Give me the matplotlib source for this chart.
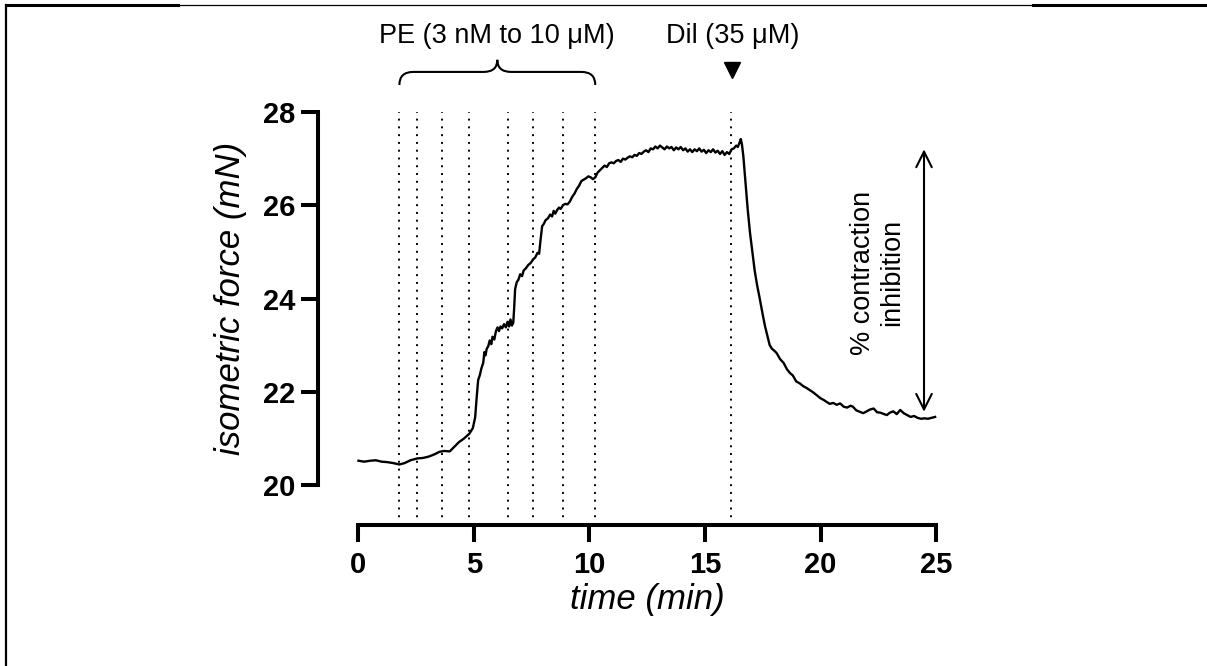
import matplotlib
matplotlib.use("Agg")
from matplotlib import pyplot as plt
from matplotlib.path import Path
from matplotlib.patches import PathPatch
from matplotlib.lines import Line2D

plt.rcParams['font.family'] = ['Liberation Sans', 'DejaVu Sans']

# trace (min, mN)
time_min = [
    0.00, 0.25, 0.50, 0.75, 1.00, 1.25, 1.50, 1.77, 2.00, 2.25, 2.55, 2.80,
    3.05, 3.30, 3.50, 3.70, 3.95, 4.15, 4.35, 4.55, 4.80, 4.95, 5.05, 5.12,
    5.18, 5.25, 5.32, 5.40, 5.45, 5.50, 5.55, 5.62, 5.68, 5.75, 5.80, 5.88,
    5.95, 6.02, 6.08, 6.15, 6.22, 6.30, 6.38, 6.45, 6.52, 6.58, 6.64, 6.70,
    6.74, 6.78, 6.85, 6.92, 7.00, 7.08, 7.15, 7.25, 7.35, 7.45, 7.56, 7.65,
    7.75, 7.82, 7.88, 7.95, 8.02, 8.10, 8.20, 8.30, 8.38, 8.45, 8.52, 8.60,
    8.68, 8.75, 8.85, 8.95, 9.05, 9.15, 9.25, 9.35, 9.45, 9.55, 9.65, 9.75,
    9.85, 9.95, 10.05, 10.15, 10.25, 10.35, 10.45, 10.55, 10.65, 10.75, 10.85, 10.95,
    11.05, 11.15, 11.25, 11.35, 11.45, 11.55, 11.65, 11.75, 11.85, 11.95, 12.05, 12.15,
    12.25, 12.35, 12.45, 12.55, 12.65, 12.75, 12.85, 12.95, 13.05, 13.15, 13.25, 13.35,
    13.45, 13.55, 13.65, 13.75, 13.85, 13.95, 14.05, 14.15, 14.25, 14.35, 14.45, 14.55,
    14.65, 14.75, 14.85, 14.95, 15.05, 15.15, 15.25, 15.35, 15.45, 15.55, 15.65, 15.75,
    15.85, 15.95, 16.05, 16.15, 16.25, 16.35, 16.42, 16.50, 16.55, 16.60, 16.66, 16.75,
    16.85, 16.95, 17.05, 17.15, 17.25, 17.38, 17.50, 17.60, 17.67, 17.80, 17.90, 18.00,
    18.10, 18.25, 18.40, 18.55, 18.68, 18.80, 18.95, 19.10, 19.25, 19.40, 19.55, 19.70,
    19.85, 20.00, 20.15, 20.27, 20.40, 20.55, 20.70, 20.85, 21.00, 21.15, 21.30, 21.40,
    21.55, 21.70, 21.85, 22.00, 22.15, 22.30, 22.45, 22.60, 22.75, 22.87, 23.00, 23.15,
    23.30, 23.45, 23.60, 23.75, 23.90, 24.05, 24.20, 24.35, 24.50, 24.65, 24.80, 24.96,
]
force_mn = [
    20.52, 20.50, 20.52, 20.53, 20.50, 20.49, 20.47, 20.44, 20.47, 20.53, 20.57, 20.58,
    20.61, 20.66, 20.71, 20.73, 20.72, 20.82, 20.92, 20.99, 21.10, 21.22, 21.45, 21.90,
    22.25, 22.35, 22.50, 22.62, 22.85, 22.78, 22.92, 22.98, 23.10, 23.02, 23.18, 23.12,
    23.30, 23.38, 23.30, 23.40, 23.36, 23.45, 23.38, 23.50, 23.40, 23.55, 23.42, 23.48,
    23.80, 24.20, 24.35, 24.40, 24.52, 24.48, 24.60, 24.65, 24.72, 24.76, 24.84, 24.88,
    24.98, 24.96, 25.25, 25.55, 25.60, 25.68, 25.72, 25.80, 25.76, 25.88, 25.82, 25.90,
    25.95, 25.92, 26.00, 26.03, 26.02, 26.08, 26.18, 26.25, 26.35, 26.42, 26.52, 26.55,
    26.58, 26.62, 26.60, 26.56, 26.60, 26.70, 26.75, 26.80, 26.85, 26.82, 26.90, 26.92,
    26.90, 26.95, 26.97, 26.93, 27.00, 26.98, 27.02, 27.05, 27.03, 27.08, 27.06, 27.12,
    27.10, 27.15, 27.18, 27.14, 27.22, 27.20, 27.26, 27.22, 27.28, 27.24, 27.20, 27.26,
    27.22, 27.25, 27.18, 27.24, 27.20, 27.25, 27.18, 27.22, 27.15, 27.20, 27.14, 27.20,
    27.16, 27.22, 27.15, 27.19, 27.12, 27.18, 27.14, 27.20, 27.13, 27.17, 27.10, 27.16,
    27.08, 27.14, 27.10, 27.20, 27.22, 27.28, 27.25, 27.35, 27.42, 27.30, 27.05, 26.50,
    25.90, 25.40, 25.00, 24.60, 24.30, 23.97, 23.65, 23.40, 23.26, 23.00, 22.92, 22.88,
    22.83, 22.70, 22.62, 22.48, 22.40, 22.35, 22.22, 22.18, 22.12, 22.08, 22.03, 21.98,
    21.92, 21.86, 21.82, 21.78, 21.74, 21.76, 21.72, 21.75, 21.68, 21.66, 21.70, 21.68,
    21.60, 21.57, 21.54, 21.58, 21.62, 21.64, 21.56, 21.55, 21.52, 21.50, 21.55, 21.58,
    21.52, 21.61, 21.54, 21.50, 21.46, 21.48, 21.44, 21.42, 21.43, 21.42, 21.44, 21.46,
]

pe_additions = [1.77, 2.55, 3.63, 4.80, 6.49, 7.57, 8.84, 10.25]
dil_addition = 16.13
x_ticks = [0, 5, 10, 15, 20, 25]
y_ticks = [20, 22, 24, 26, 28]
inhibition_top = 27.2
inhibition_bottom = 21.57
inhibition_time = 24.48


def draw_brace(ax, x0, x1, y_end, y_bar, y_tip, r):
    xm = (x0 + x1) / 2
    verts = [
        (x0, y_end), (x0, y_bar), (x0 + r, y_bar),
        (xm - r, y_bar), (xm, y_bar), (xm, y_tip),
        (xm, y_bar), (xm + r, y_bar),
        (x1 - r, y_bar), (x1, y_bar), (x1, y_end),
    ]
    codes = [
        Path.MOVETO, Path.CURVE3, Path.CURVE3,
        Path.LINETO, Path.CURVE3, Path.CURVE3,
        Path.CURVE3, Path.CURVE3,
        Path.LINETO, Path.CURVE3, Path.CURVE3,
    ]
    patch = PathPatch(Path(verts, codes), facecolor='none', edgecolor='black',
                      lw=1.5, clip_on=False)
    ax.add_patch(patch)


def main():
    fig = plt.figure(figsize=(12.07, 6.66), dpi=100)
    ax = fig.add_axes([0.2970, 0.2718, 0.4785, 0.56])

    ax.set_xlim(0, 25)
    ax.set_ylim(20, 28)

    for side in ['top', 'right']:
        ax.spines[side].set_visible(False)
    for side in ['left', 'bottom']:
        ax.spines[side].set_position(('outward', 29))
        ax.spines[side].set_linewidth(2.9)

    ax.set_xticks(x_ticks)
    ax.set_xticklabels([str(v) for v in x_ticks], fontweight='bold')
    ax.set_yticks(y_ticks)
    ax.set_yticklabels([str(v) for v in y_ticks], fontweight='bold')
    ax.tick_params(axis='both', width=2.9, length=12.3, labelsize=21)
    ax.tick_params(axis='x', pad=6)
    ax.tick_params(axis='y', pad=4)

    ax.set_ylabel("isometric force (mN)", fontsize=25, fontstyle='italic', va='center')
    ax.yaxis.set_label_coords(-0.222, 0.5)
    ax.set_xlabel("time (min)", fontsize=25, fontstyle='italic', va='center')
    ax.xaxis.set_label_coords(0.5, -0.308)

    # drug additions
    for t in pe_additions + [dil_addition]:
        ax.plot([t, t], [19.14, 28], color='black', lw=1.4,
                linestyle=(0, (1, 3)), clip_on=False)

    ax.plot(time_min, force_mn, color='black', lw=1.7, clip_on=False)

    draw_brace(ax, pe_additions[0], pe_additions[-1], 28.58, 28.86, 29.12, 0.6)
    ax.text(6.0, 29.62, "PE (3 nM to 10 μM)", ha='center', va='center',
            fontsize=19.5, clip_on=False)
    ax.text(16.2, 29.62, "Dil (35 μM)", ha='center', va='center',
            fontsize=19.5, clip_on=False)
    ax.plot([16.17], [28.9], marker='v', ms=12, color='black', clip_on=False)

    ax.annotate('', xy=(inhibition_time, inhibition_top),
                xytext=(inhibition_time, inhibition_bottom),
                arrowprops=dict(arrowstyle='<->', lw=1.5, color='black',
                                mutation_scale=28, shrinkA=0, shrinkB=0))
    ax.text(22.47, 24.55, "% contraction\ninhibition", rotation=90,
            ha='center', va='center', fontsize=19.5, multialignment='center')

    # page frame
    fig.add_artist(Line2D([0.005, 1.0], [0.9925, 0.9925], transform=fig.transFigure,
                          color='black', lw=0.9))
    fig.add_artist(Line2D([0.005, 0.1475], [0.9925, 0.9925], transform=fig.transFigure,
                          color='black', lw=2.2))
    fig.add_artist(Line2D([0.856, 1.0], [0.9925, 0.9925], transform=fig.transFigure,
                          color='black', lw=2.2))
    fig.add_artist(Line2D([0.005, 0.005], [0.0, 0.9925], transform=fig.transFigure,
                          color='black', lw=1.6))

    fig.savefig("out.png", dpi=100)


if __name__ == "__main__":
    main()
